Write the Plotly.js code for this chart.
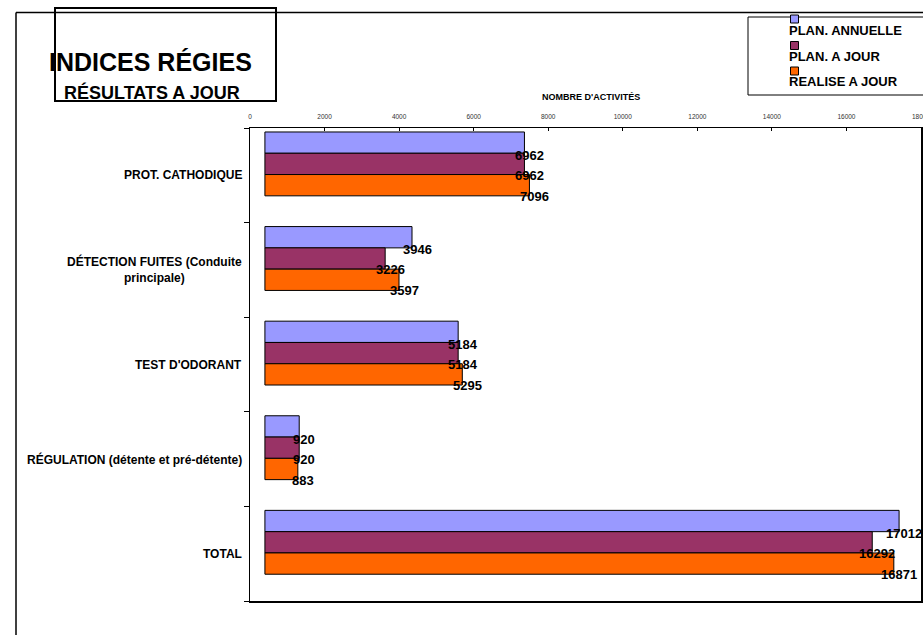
<!DOCTYPE html>
<html>
<head>
<meta charset="utf-8">
<script src="https://cdn.plot.ly/plotly-3.0.1.min.js"></script>
<style>html,body{margin:0;padding:0;background:#fff;}#chart{width:923px;height:635px;}</style>
</head>
<body>
<div id="chart"></div>
<script>
// ---- data ----
var categories = ["PROT. CATHODIQUE", "DÉTECTION FUITES (Conduite<br>principale)", "TEST D'ODORANT", "RÉGULATION (détente et pré-détente)", "TOTAL"];
var seriesNames = ["PLAN. ANNUELLE", "PLAN. A JOUR", "REALISE A JOUR"];
var planAnnuelle = [6962, 3946, 5184, 920, 17012];
var planAJour = [6962, 3226, 5184, 920, 16292];
var realiseAJour = [7096, 3597, 5295, 883, 16871];
var seriesColors = ["#9999FF", "#993366", "#FF6600"];
var tickValues = [0, 2000, 4000, 6000, 8000, 10000, 12000, 14000, 16000, 18000];
var tickLabels = ["0", "2000", "4000", "6000", "8000", "10000", "12000", "14000", "16000", "18000"];
var titleMain = "INDICES RÉGIES";
var titleSub = "RÉSULTATS A JOUR";
var axisTitle = "NOMBRE D'ACTIVITÉS";

var seriesValues = [planAnnuelle, planAJour, realiseAJour];

// ---- layout geometry ----
var L = 250, R = 921, T = 128, B = 601;
var W = R - L, H = B - T;
function px(x) { return (x - L) / W; }
function py(y) { return (B - y) / H; }
var FONT = "Liberation Sans, Arial, sans-serif";

var barWidth = 0.225;
var offsets = [-0.458, -0.233, -0.008];
var labelShift = [20, 0, -21];

var idx = categories.map(function (c, i) { return i; });

var traces = seriesValues.map(function (vals, s) {
  return {
    type: "bar",
    orientation: "h",
    name: seriesNames[s],
    x: vals,
    y: idx,
    xaxis: "x",
    yaxis: "y",
    width: barWidth,
    offset: offsets[s],
    marker: { color: seriesColors[s], line: { color: "#000", width: 1 } },
    hoverinfo: "x",
    showlegend: false
  };
});
// invisible helper trace so the top axis is drawn
traces.push({
  type: "scatter", mode: "markers", x: [tickValues[0]], y: [idx[0]],
  xaxis: "x2", yaxis: "y", marker: { opacity: 0 }, hoverinfo: "skip", showlegend: false
});

var annotations = [];
seriesValues.forEach(function (vals, s) {
  vals.forEach(function (v, i) {
    annotations.push({
      x: v, y: i, xref: "x", yref: "y", text: "<b>" + v + "</b>",
      showarrow: false, xanchor: "center", yanchor: "middle",
      xshift: 5, yshift: labelShift[s],
      font: { family: FONT, size: 13, color: "#000" }
    });
  });
});
categories.forEach(function (c, i) {
  annotations.push({
    x: px(243.5), y: i, xref: "paper", yref: "y", text: "<b>" + c + "</b>",
    showarrow: false, xanchor: "right", yanchor: "middle", align: "center",
    font: { family: FONT, size: 12, color: "#000" }
  });
});
// titles
annotations.push({
  x: px(150), y: py(61.5), xref: "paper", yref: "paper", text: "<b>" + titleMain + "</b>",
  showarrow: false, xanchor: "center", yanchor: "middle",
  font: { family: FONT, size: 25, color: "#000" }
});
annotations.push({
  x: px(152), y: py(92), xref: "paper", yref: "paper", text: "<b>" + titleSub + "</b>",
  showarrow: false, xanchor: "center", yanchor: "middle",
  font: { family: FONT, size: 18, color: "#000" }
});
annotations.push({
  x: px(591), y: py(97), xref: "paper", yref: "paper", text: "<b>" + axisTitle + "</b>",
  showarrow: false, xanchor: "center", yanchor: "middle",
  font: { family: FONT, size: 9, color: "#000" }
});

var shapes = [
  // outer frame
  { type: "line", xref: "paper", yref: "paper", x0: px(16), x1: px(930), y0: py(12.5), y1: py(12.5), line: { color: "#000", width: 1.5 } },
  { type: "line", xref: "paper", yref: "paper", x0: px(16), x1: px(16), y0: py(12.5), y1: py(640), line: { color: "#000", width: 1.5 } },
  // title box
  { type: "rect", xref: "paper", yref: "paper", x0: px(55), x1: px(276), y0: py(8), y1: py(101), line: { color: "#000", width: 2 } },
  // legend box
  { type: "rect", xref: "paper", yref: "paper", x0: px(748), x1: px(935), y0: py(17), y1: py(95), line: { color: "#000", width: 1 } }
];

var legendSquareTops = [15, 41.5, 67];
var legendTextY = [30.5, 56, 81];
seriesNames.forEach(function (n, s) {
  shapes.push({
    type: "rect", xref: "paper", yref: "paper",
    x0: px(790.5), x1: px(798.5), y0: py(legendSquareTops[s]), y1: py(legendSquareTops[s] + 8),
    fillcolor: seriesColors[s], line: { color: "#000", width: 1 }
  });
  annotations.push({
    x: px(787), y: py(legendTextY[s]), xref: "paper", yref: "paper", text: "<b>" + n + "</b>",
    showarrow: false, xanchor: "left", yanchor: "middle",
    font: { family: FONT, size: 13, color: "#000" }
  });
});

var layout = {
  width: 923, height: 635,
  margin: { l: L, r: 923 - R, t: T, b: 635 - B, pad: 0 },
  paper_bgcolor: "#fff", plot_bgcolor: "#fff",
  barmode: "overlay",
  showlegend: false,
  font: { family: FONT },
  xaxis: {
    range: [-400, 17600], visible: false, fixedrange: true
  },
  xaxis2: {
    overlaying: "x", side: "top", anchor: "y",
    range: [0, 18000],
    tickmode: "array", tickvals: tickValues, ticktext: tickLabels,
    tickfont: { family: FONT, size: 6.5, color: "#333" },
    ticks: "inside", ticklen: 3, tickcolor: "#000",
    ticklabelstandoff: 5, ticklabeloverflow: "allow",
    showline: true, linecolor: "#000", linewidth: 1.5, mirror: true,
    showgrid: false, zeroline: false, fixedrange: true
  },
  yaxis: {
    type: "linear", range: [4.5, -0.5],
    tickmode: "array", tickvals: [-0.5, 0.5, 1.5, 2.5, 3.5, 4.5],
    showticklabels: false,
    ticks: "outside", ticklen: 5, tickcolor: "#000",
    showline: true, linecolor: "#000", linewidth: 1.5, mirror: true,
    showgrid: false, zeroline: false, fixedrange: true
  },
  annotations: annotations,
  shapes: shapes
};

Plotly.newPlot("chart", traces, layout, { displayModeBar: false, staticPlot: true });
</script>
</body>
</html>
